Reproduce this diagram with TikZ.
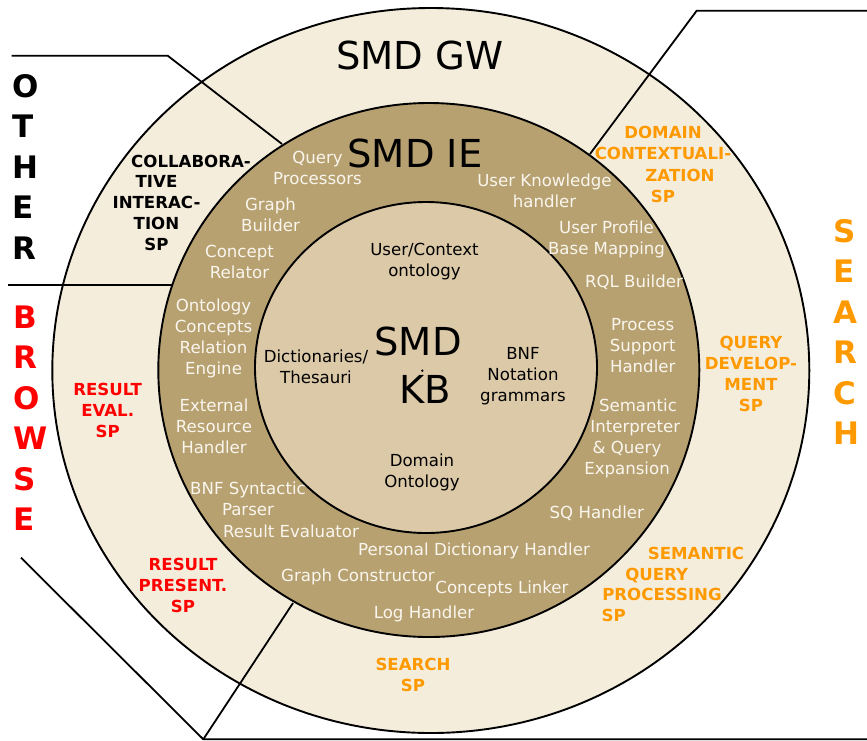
\documentclass[tikz,border=0pt]{standalone}
\usepackage{fontspec}
\setmainfont{DejaVu Sans}
\definecolor{gwfill}{HTML}{F5EDDC}
\definecolor{iefill}{HTML}{B7A171}
\definecolor{kbfill}{HTML}{DCC9A8}
\definecolor{ringtext}{HTML}{FAF6EE}
\definecolor{spor}{HTML}{FF9900}
\definecolor{spred}{HTML}{FF0000}
\newcommand{\mlc}[1]{\vtop{\halign{\hfil##\hfil\cr#1\crcr}}}
\newcommand{\mll}[1]{\vtop{\halign{##\hfil\cr#1\crcr}}}
\tikzset{
  txt/.style={inner sep=0pt, anchor=base, font=\fontsize{16.6}{21}\selectfont},
  wt/.style={txt, text=ringtext},
  bk/.style={txt, text=black},
  bb/.style={txt, text=black, font=\fontsize{16.6}{21}\selectfont\bfseries},
  rd/.style={txt, text=spred, font=\fontsize{16.6}{21}\selectfont\bfseries},
  og/.style={txt, text=spor, font=\fontsize{16.6}{21}\selectfont\bfseries},
  titletext/.style={inner sep=0pt, anchor=base, text=black, font=\fontsize{38.5}{48}\selectfont},
  bigletters/.style={inner sep=0pt, anchor=base west, font=\fontsize{31}{40.5}\selectfont\bfseries},
  ring/.style={draw=black, line width=1.9pt},
  frameline/.style={draw=black, line width=1.8pt}
}
\begin{document}
\begin{tikzpicture}[x=1pt, y=-1pt]
\useasboundingbox (0,0) rectangle (867,740);
\fill[white] (0,0) rectangle (867,740);
% outer ring
\path[ring, fill=gwfill] (430.8,370.5) ellipse [x radius=378.5pt, y radius=362.5pt];
% frame lines
\coordinate (o1) at (11.7,55.7);
\coordinate (o2) at (167.7,55.7);
\coordinate (o3) at (282,144);
\coordinate (b1) at (8,285);
\coordinate (b2) at (172.4,285);
\coordinate (s1) at (867,10.7);
\coordinate (s2) at (696.7,10.7);
\coordinate (s3) at (590,154);
\coordinate (p1) at (21,557.7);
\coordinate (p2) at (203.3,739.3);
\coordinate (p3) at (867,739.3);
\coordinate (p4) at (293,603);
\draw[frameline] (o1) -- (o2) -- (o3);
\draw[frameline] (b1) -- (b2);
\draw[frameline] (s1) -- (s2) -- (s3);
\draw[frameline] (p1) -- (p2) -- (p3);
\draw[frameline] (p2) -- (p4);
% middle and inner rings
\path[ring, fill=iefill] (428.8,370) ellipse [x radius=270.5pt, y radius=267pt];
\path[ring, fill=kbfill] (426,367.5) ellipse [x radius=171pt, y radius=165.5pt];
\coordinate (kbdot) at (422.3,370.7);
\fill[black] (kbdot) circle (1.3pt);
% titles
\node[titletext] (gw) at (420,69) {SMD GW};
\node[titletext] (ie) at (415,167) {SMD IE};
\node[titletext] (kb1) at (418,355) {SMD};
\node[titletext] (kb2) at (425,403) {KB};
% big side letters
\node[bigletters, text=black] (other) at (12,97) {\mll{O\cr T\cr H\cr E\cr R}};
\node[bigletters, text=spred] (browse) at (13,328) {\mll{B\cr R\cr O\cr W\cr S\cr E}};
\node[bigletters, text=spor] (search) at (833,242) {\mll{S\cr E\cr A\cr R\cr C\cr H}};
% inner KB texts
\node[bk] (ucont) at (424.5,255.7) {\mlc{User/Context\cr ontology}};
\node[bk] (dict) at (316,362.3) {\mlc{Dictionaries/\cr Thesauri}};
\node[bk] (bnfg) at (523,359) {\mlc{BNF\cr Notation\cr grammars}};
\node[bk] (domont) at (422,466.7) {\mlc{Domain\cr Ontology}};
% IE ring texts
\node[wt] (qp) at (317.5,163) {\mlc{Query\cr Processors}};
\node[wt] (gb) at (270.5,210) {\mlc{Graph\cr Builder}};
\node[wt] (cr) at (239.5,257) {\mlc{Concept\cr Relator}};
\node[wt] (ocre) at (213.5,311.7) {\mlc{Ontology\cr Concepts\cr Relation\cr Engine}};
\node[wt] (erh) at (214,411.7) {\mlc{External\cr Resource\cr Handler}};
\node[wt] (bnfp) at (248,494.3) {\mlc{BNF Syntactic\cr Parser}};
\node[wt] (reval) at (291,537.3) {Result Evaluator};
\node[wt] (pdh) at (474,555.7) {Personal Dictionary Handler};
\node[wt] (gc) at (358,581.7) {Graph Constructor};
\node[wt] (cl) at (502,593.3) {Concepts Linker};
\node[wt] (lh) at (424,618.3) {Log Handler};
\node[wt] (sqh) at (596.8,518.3) {SQ Handler};
\node[wt] (si1) at (638,411.7) {Semantic};
\node[wt] (si2) at (635.3,432.3) {Interpreter};
\node[wt] (si3) at (627,453.3) {\& Query};
\node[wt] (si4) at (627,474.3) {Expansion};
\node[wt] (psh) at (642.7,330) {\mlc{Process\cr Support\cr Handler}};
\node[wt] (rql) at (634,287) {RQL Builder};
\node[wt] (upb) at (606.5,233) {\mlc{User Profile\cr Base Mapping}};
\node[wt] (ukh) at (544.5,186) {\mlc{User Knowledge\cr handler}};
% GW ring service providers
\node[bb] (ci1) at (191,167) {COLLABORA-};
\node[bb] (ci2) at (156.5,187) {\mlc{TIVE\cr INTERAC-\cr TION\cr SP}};
\node[rd] (rev) at (107.7,395.7) {\mlc{RESULT\cr EVAL.\cr SP}};
\node[rd] (rpr) at (183,570.7) {\mlc{RESULT\cr PRESENT.\cr SP}};
\node[og] (dc1) at (663,138) {\mlc{DOMAIN\cr CONTEXTUALI-}};
\node[og] (dc2) at (680,181) {ZATION};
\node[og] (dc3) at (663,202) {SP};
\node[og] (qd) at (751,348.3) {\mlc{QUERY\cr DEVELOP-\cr MENT\cr SP}};
\node[og] (sq1) at (696,559) {SEMANTIC};
\node[og] (sq2) at (656.7,580) {QUERY};
\node[og] (sq3) at (662,600.7) {PROCESSING};
\node[og] (sq4) at (613.7,621.7) {SP};
\node[og] (ssp) at (413,670.7) {\mlc{SEARCH\cr SP}};
\end{tikzpicture}
\end{document}
